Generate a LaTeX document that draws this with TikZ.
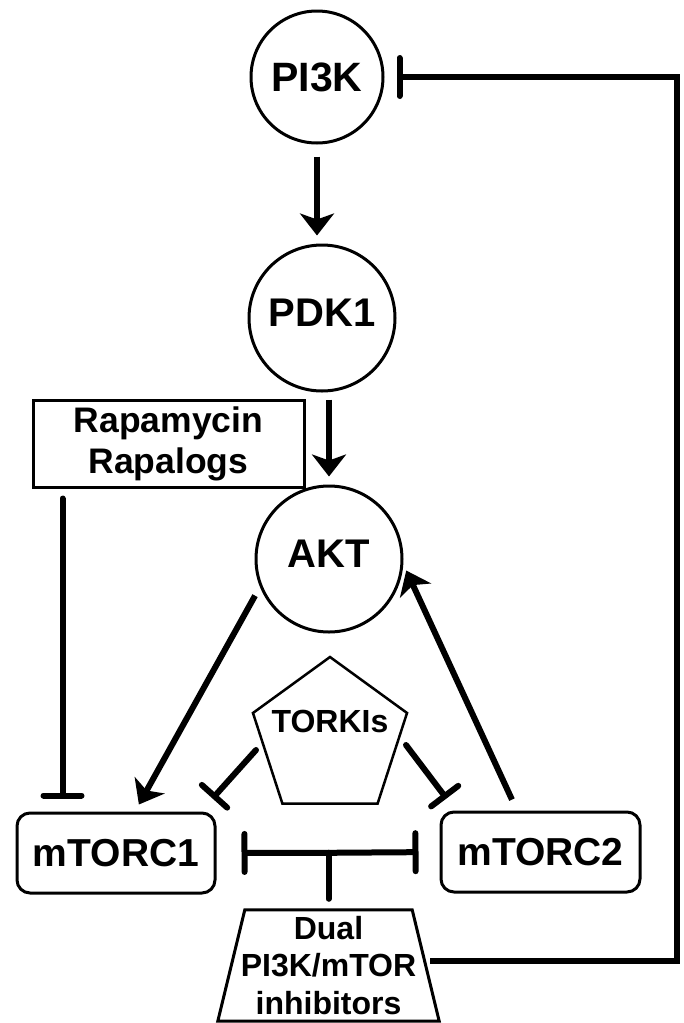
\documentclass[tikz,border=0pt]{standalone}
\usepackage{fontspec}
\setmainfont{Liberation Sans}
\usetikzlibrary{arrows.meta,shapes.geometric,calc}
\begin{document}
\begin{tikzpicture}[x=1pt,y=-1pt,
  circ/.style={circle,draw,line width=3pt,inner sep=0pt,font=\bfseries\fontsize{40}{48}\selectfont},
  rbox/.style={rectangle,rounded corners=13pt,draw,line width=3pt,inner sep=0pt,minimum width=198pt,minimum height=80pt,font=\bfseries\fontsize{39}{47}\selectfont},
  act/.style={line width=6pt,-{Stealth[length=22pt,width=34pt,inset=6pt]}},
  inh/.style={line width=6pt,line cap=round,-{Bar[width=38pt,round]}},
  inhs/.style={line width=6pt,line cap=round,-{Bar[width=34pt,round]}},
  plainline/.style={line width=6pt,line cap=round}]
\fill[white] (0,0) rectangle (683,1023);
\useasboundingbox (0,0) rectangle (683,1023);
% nodes
\node[circ,minimum size=132pt,font=\bfseries\fontsize{41}{49}\selectfont] (pi3k) at (317,77) {PI3K};
\node[circ,minimum size=146pt,text depth=10pt] (pdk1) at (322,318) {PDK1};
\node[circ,minimum size=146pt,text depth=10pt] (akt) at (329,559) {AKT};
\node[draw,line width=3pt,rectangle,minimum width=271pt,minimum height=87pt,inner sep=0pt,align=center,font=\bfseries\fontsize{35.5}{41}\selectfont] (rapa) at (168.5,443.5) {Rapamycin\\Rapalogs};
\node[rbox] (mtorc1) at (116,853) {mTORC1};
\node[rbox,minimum width=199pt] (mtorc2) at (540.5,852) {mTORC2};
\node[regular polygon,regular polygon sides=5,draw,line width=2.5pt,minimum size=162pt,inner sep=0pt,
  label={[font=\bfseries\fontsize{32}{38}\selectfont,yshift=16.5pt]center:TORKIs}] (torkis) at (330,738) {};
\node[inner sep=0pt,minimum width=221pt,minimum height=111pt,align=center,font=\bfseries\fontsize{32}{37.5}\selectfont] (dual) at (328.5,965.5) {Dual\\PI3K/mTOR\\inhibitors};
\draw[line width=3pt] (dual.south west) -- ($(dual.north west)+(27,0)$) -- ($(dual.north east)+(-27,0)$) -- (dual.south east) -- cycle;
% connectors
\draw[act,shorten <=12pt,shorten >=8pt] (pi3k.south) -- (pi3k.south |- pdk1.north);
\draw[act,shorten <=7pt,shorten >=8pt] (akt.north |- pdk1.south) -- (akt.north);
\draw[act,shorten <=10pt,shorten >=8pt] (akt.202) -- ($(mtorc1.north)+(19,0)$);
\draw[act,shorten <=12pt,shorten >=7pt] ($(mtorc2.north)+(-23.5,0)$) -- (akt.356);
\draw[inhs] ($(torkis.center)+(-74,12)$) -- ($(mtorc1.north east)+(-4,-13)$);
\draw[inhs] ($(torkis.center)+(76,7)$) -- ($(mtorc2.north west)+(7,-12)$);
\draw[inh,shorten <=10pt,shorten >=13pt] ($(rapa.south west)+(31,0)$) -- ($(mtorc1.north west)+(47,0)$);
\coordinate (j) at ($(dual.north)+(0,-57)$);
\draw[plainline,shorten <=11pt] (dual.north) -- (j);
\draw[inh,shorten >=25pt] (j) -- (mtorc1.east);
\draw[inh,shorten >=21pt] (j) -- (mtorc2.west);
\draw[inh,line cap=butt,shorten >=12pt] ($(dual.east)+(-9,-4.5)$) -- ++(246.5,0) |- (pi3k.east);
\end{tikzpicture}
\end{document}
